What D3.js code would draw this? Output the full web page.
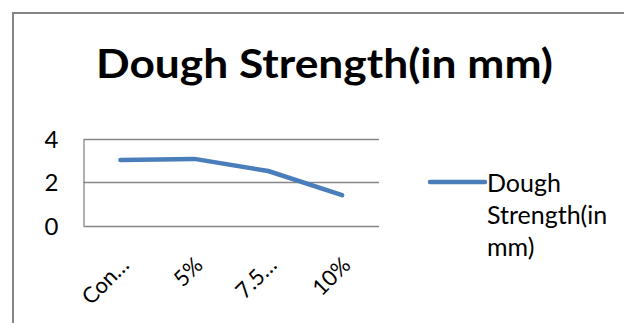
<!DOCTYPE html>
<html>
<head>
<meta charset="utf-8">
<script src="https://cdn.jsdelivr.net/npm/d3@7"></script>
<style>
  html, body { margin: 0; padding: 0; background: #ffffff; }
  svg { display: block; }
  text { font-family: Lato, "Open Sans", sans-serif; fill: #000; }
</style>
</head>
<body>
<svg id="chart" width="624" height="323"></svg>
<script>
// Dough strength by substitution level
const categories = ["Control", "5%", "7.5%", "10%"];
const tickLabels = ["Con\u2026", "5%", "7.5\u2026", "10%"];
const strengthValues = [3.03, 3.08, 2.52, 1.4];
const yTicks = [0, 2, 4];
const seriesName = "Dough Strength(in mm)";
const legendLines = ["Dough", "Strength(in", "mm)"];
const chartTitle = "Dough Strength(in mm)";

const svg = d3.select("#chart");
const plot = { left: 83.5, right: 379, top: 139, bottom: 225.5 };
const gridColor = "#868686";
const lineColor = "#4A7EBB";

// chart area border (runs off the right and bottom edges)
svg.append("rect")
  .attr("x", 13).attr("y", 13)
  .attr("width", 700).attr("height", 400)
  .attr("fill", "#fff")
  .attr("stroke", gridColor)
  .attr("stroke-width", 2);

// title
svg.append("text")
  .attr("x", 324.5).attr("y", 78)
  .attr("text-anchor", "middle")
  .attr("font-weight", "bold")
  .attr("font-size", 41)
  .attr("textLength", 457)
  .attr("lengthAdjust", "spacingAndGlyphs")
  .text(chartTitle);

const x = d3.scaleBand().domain(categories).range([plot.left, plot.right]);
const y = d3.scaleLinear().domain([0, 4]).range([plot.bottom, plot.top]);

// horizontal gridlines
svg.append("g")
  .selectAll("line")
  .data(yTicks)
  .join("line")
  .attr("x1", plot.left).attr("x2", plot.right)
  .attr("y1", d => Math.round(y(d)) + 0.5).attr("y2", d => Math.round(y(d)) + 0.5)
  .attr("stroke", gridColor)
  .attr("stroke-width", 1.3);

// value axis
const yAxis = svg.append("g")
  .attr("transform", `translate(${plot.left},0)`)
  .call(d3.axisLeft(y).tickValues(yTicks).tickSize(0).tickPadding(25).tickFormat(d3.format("d")));
yAxis.select(".domain").attr("stroke", gridColor).attr("stroke-width", 1.3);
yAxis.selectAll("text")
  .attr("font-family", "Lato, sans-serif")
  .attr("font-size", 24)
  .attr("fill", "#000")
  .attr("dy", "0.36em");

// category axis, labels slanted up at 45 degrees
const xAxis = svg.append("g")
  .attr("transform", `translate(0,${plot.bottom})`)
  .call(d3.axisBottom(x).tickSize(0).tickFormat((d, i) => tickLabels[i]));
xAxis.select(".domain").remove();
xAxis.selectAll("text")
  .attr("font-family", "Lato, sans-serif")
  .attr("font-size", 22)
  .attr("fill", "#000")
  .attr("text-anchor", "end")
  .attr("y", 0).attr("dy", 0)
  .attr("transform", "translate(10,41) rotate(-45)");

// series line
const line = d3.line()
  .x((d, i) => x(categories[i]) + x.bandwidth() / 2)
  .y(d => y(d));
svg.append("path")
  .datum(strengthValues)
  .attr("d", line)
  .attr("fill", "none")
  .attr("stroke", lineColor)
  .attr("stroke-width", 4.5)
  .attr("stroke-linejoin", "round")
  .attr("stroke-linecap", "round");

// legend
const legend = svg.append("g").attr("transform", "translate(430,182)");
legend.append("line")
  .attr("x1", 0).attr("x2", 55)
  .attr("y1", 0).attr("y2", 0)
  .attr("stroke", lineColor)
  .attr("stroke-width", 4.5)
  .attr("stroke-linecap", "round");
legend.append("text")
  .attr("x", 57).attr("y", 10)
  .attr("font-size", 25)
  .attr("aria-label", seriesName)
  .selectAll("tspan")
  .data(legendLines)
  .join("tspan")
  .attr("x", 57)
  .attr("dy", (d, i) => i === 0 ? 0 : 32)
  .text(d => d);
</script>
</body>
</html>
